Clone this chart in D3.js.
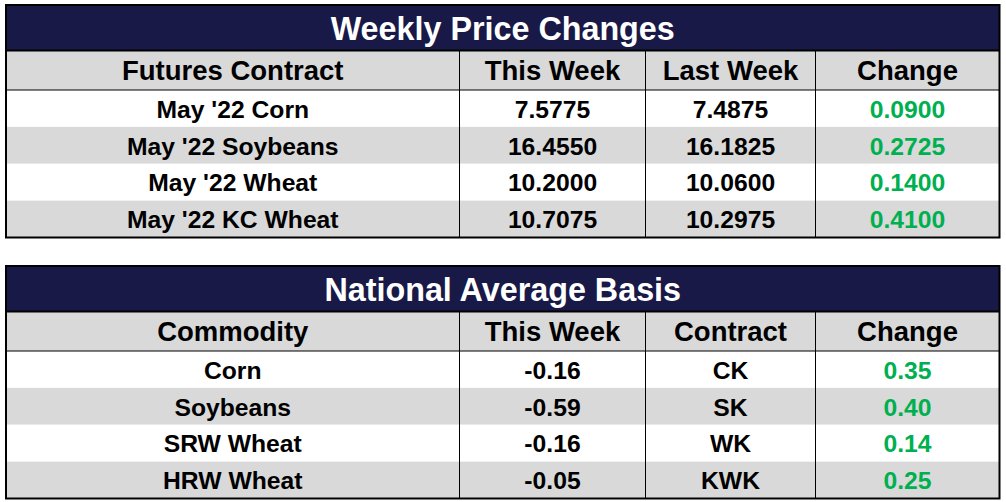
<!DOCTYPE html>
<html>
<head>
<meta charset="utf-8">
<script src="https://cdn.jsdelivr.net/npm/d3@7"></script>
<style>
  body { margin: 0; background: #fff; }
  text { font-family: "Liberation Sans", Arial, sans-serif; font-weight: bold; }
</style>
</head>
<body>
<svg width="1006" height="502"></svg>
<script>
// table 1
let price_title = "Weekly Price Changes";
let price_headers = ["Futures Contract", "This Week", "Last Week", "Change"];
let price_contracts = ["May '22 Corn", "May '22 Soybeans", "May '22 Wheat", "May '22 KC Wheat"];
let price_this_week = ["7.5775", "16.4550", "10.2000", "10.7075"];
let price_last_week = ["7.4875", "16.1825", "10.0600", "10.2975"];
let price_change = ["0.0900", "0.2725", "0.1400", "0.4100"];

// table 2
let basis_title = "National Average Basis";
let basis_headers = ["Commodity", "This Week", "Contract", "Change"];
let basis_commodities = ["Corn", "Soybeans", "SRW Wheat", "HRW Wheat"];
let basis_this_week = ["-0.16", "-0.59", "-0.16", "-0.05"];
let basis_contract = ["CK", "SK", "WK", "KWK"];
let basis_change = ["0.35", "0.40", "0.14", "0.25"];

let navy = "#191947", grey = "#d9d9d9", green = "#00b050";
let col_edges = [6, 459.5, 645.5, 815.5, 999.5];

let svg = d3.select('svg');

function drawTable(top, title, headers, columns) {
    let g = svg.append('g');
    let bottom = top + 232.5;
    let head_top = top + 45.5, body_top = top + 85;

    let x = d3.scaleOrdinal().domain([0, 1, 2, 3]).range(col_edges.slice(0, 4));
    let xEnd = d3.scaleOrdinal().domain([0, 1, 2, 3]).range(col_edges.slice(1));
    let y = d3.scaleBand().domain(d3.range(columns[0].length)).range([body_top, bottom]);

    // title band
    g.append('rect')
        .attr('x', col_edges[0]).attr('y', top)
        .attr('width', col_edges[4] - col_edges[0]).attr('height', head_top - top)
        .attr('fill', navy);
    g.append('text')
        .attr('x', (col_edges[0] + col_edges[4]) / 2)
        .attr('y', top + 35)
        .attr('text-anchor', 'middle')
        .attr('font-size', 32.3)
        .attr('fill', 'white')
        .text(title);

    // header row
    g.append('rect')
        .attr('x', col_edges[0]).attr('y', head_top)
        .attr('width', col_edges[4] - col_edges[0]).attr('height', body_top - head_top)
        .attr('fill', grey);
    g.selectAll('text.head')
        .data(headers)
        .join('text')
        .attr('class', 'head')
        .attr('x', function (d, i) { return (x(i) + xEnd(i)) / 2; })
        .attr('y', head_top + 29)
        .attr('text-anchor', 'middle')
        .attr('font-size', 27.5)
        .attr('fill', 'black')
        .text(function (d) { return d; });

    // body rows
    g.selectAll('rect.row')
        .data(columns[0])
        .join('rect')
        .attr('class', 'row')
        .attr('x', col_edges[0])
        .attr('y', function (d, i) { return y(i); })
        .attr('width', col_edges[4] - col_edges[0])
        .attr('height', y.bandwidth())
        .attr('fill', function (d, i) { return i % 2 ? grey : 'white'; });

    columns.forEach(function (col, c) {
        g.selectAll('text.c' + c)
            .data(col)
            .join('text')
            .attr('class', 'c' + c)
            .attr('x', (x(c) + xEnd(c)) / 2)
            .attr('y', function (d, i) { return y(i) + y.bandwidth() / 2 + 9.3; })
            .attr('text-anchor', 'middle')
            .attr('font-size', 24.7)
            .attr('fill', c == 3 ? green : 'black')
            .text(function (d) { return d; });
    });

    // grid lines
    g.selectAll('line.vert')
        .data(col_edges.slice(1, 4))
        .join('line')
        .attr('class', 'vert')
        .attr('x1', function (d) { return d; }).attr('x2', function (d) { return d; })
        .attr('y1', head_top).attr('y2', bottom)
        .attr('stroke', 'black').attr('stroke-width', 1);
    g.append('line')
        .attr('x1', col_edges[0]).attr('x2', col_edges[4])
        .attr('y1', head_top).attr('y2', head_top)
        .attr('stroke', 'black').attr('stroke-width', 2);
    g.append('line')
        .attr('x1', col_edges[0]).attr('x2', col_edges[4])
        .attr('y1', body_top).attr('y2', body_top)
        .attr('stroke', 'black').attr('stroke-width', 1);
    g.append('rect')
        .attr('x', col_edges[0]).attr('y', top)
        .attr('width', col_edges[4] - col_edges[0]).attr('height', bottom - top)
        .attr('fill', 'none')
        .attr('stroke', 'black').attr('stroke-width', 2);
}

drawTable(5, price_title, price_headers, [price_contracts, price_this_week, price_last_week, price_change]);
drawTable(266, basis_title, basis_headers, [basis_commodities, basis_this_week, basis_contract, basis_change]);
</script>
</body>
</html>
